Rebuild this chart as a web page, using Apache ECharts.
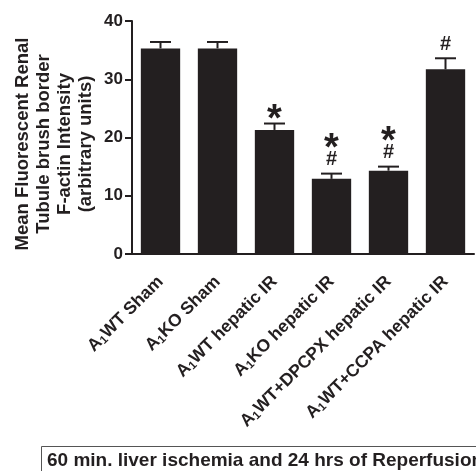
<!DOCTYPE html>
<html>
<head>
<meta charset="utf-8">
<script src="https://cdn.jsdelivr.net/npm/echarts@6/dist/echarts.min.js"></script>
<style>
html,body{margin:0;padding:0;background:#fff;}
#c{width:476px;height:471px;}
</style>
</head>
<body>
<div id="c"></div>
<script>
// ---- data ----
var categories = ['A{s|1}WT Sham', 'A{s|1}KO Sham', 'A{s|1}WT hepatic IR', 'A{s|1}KO hepatic IR', 'A{s|1}WT+DPCPX hepatic IR', 'A{s|1}WT+CCPA hepatic IR'];
var means = [35.3, 35.3, 21.3, 12.9, 14.3, 31.7];
var errorTops = [36.4, 36.4, 22.4, 13.8, 15.0, 33.6];
var starMarks = ['', '', '*', '*', '*', ''];
var hashMarks = ['', '', '', '#', '#', '#'];
var yTicks = [0, 10, 20, 30, 40];
var yTitle = 'Mean Fluorescent Renal\nTubule brush border\nF-actin Intensity\n(arbitrary units)';
var footnote = '60 min. liver ischemia and 24 hrs of Reperfusion';

var INK = '#231f20';
var FONT = '"Liberation Sans", Arial, Helvetica, sans-serif';

var chart = echarts.init(document.getElementById('c'), null, {renderer: 'canvas'});

var errData = means.map(function (m, i) { return [i, m, errorTops[i]]; });
var annData = means.map(function (m, i) { return [i, errorTops[i], starMarks[i], hashMarks[i]]; });

chart.setOption({
  animation: false,
  backgroundColor: '#fff',
  grid: {left: 132, right: 2, top: 21, bottom: 217, containLabel: false},
  xAxis: {
    type: 'category',
    data: categories,
    axisLine: {lineStyle: {color: INK, width: 2}},
    axisTick: {alignWithLabel: true, length: 8, lineStyle: {color: INK, width: 2}},
    axisLabel: {
      interval: 0, rotate: 45, margin: 25,
      color: INK, fontFamily: FONT, fontWeight: 'bold', fontSize: 17.5,
      rich: {s: {fontSize: 11.5, fontWeight: 'bold', fontFamily: FONT, color: INK, verticalAlign: 'bottom', padding: [7, 0, 0, 0]}}
    }
  },
  yAxis: {
    type: 'value', min: 0, max: 40, interval: 10,
    axisLine: {show: true, lineStyle: {color: INK, width: 2}},
    axisTick: {show: true, length: 7, lineStyle: {color: INK, width: 2}},
    splitLine: {show: false},
    axisLabel: {
      margin: 9, color: INK, fontFamily: FONT, fontWeight: 'bold', fontSize: 17,
      formatter: function (v) { return yTicks.indexOf(v) >= 0 ? String(v) : ''; }
    }
  },
  series: [
    {
      type: 'bar', data: means, barCategoryGap: '31%',
      itemStyle: {color: INK}
    },
    {
      type: 'custom', data: errData, z: 3,
      renderItem: function (params, api) {
        var top = api.coord([api.value(0), api.value(2)]);
        var base = api.coord([api.value(0), api.value(1)]);
        var half = 10.5;
        return {
          type: 'group',
          children: [
            {type: 'line', shape: {x1: top[0], y1: top[1], x2: base[0], y2: base[1]}, style: {stroke: INK, lineWidth: 2}},
            {type: 'line', shape: {x1: top[0] - half, y1: top[1], x2: top[0] + half, y2: top[1]}, style: {stroke: INK, lineWidth: 2}}
          ]
        };
      }
    },
    {
      type: 'custom', data: annData, z: 4,
      renderItem: function (params, api) {
        var i = params.dataIndex;
        var p = api.coord([api.value(0), api.value(1)]);
        var kids = [];
        var star = starMarks[i], hash = hashMarks[i];
        var y = p[1];
        if (hash) {
          kids.push({type: 'text', style: {text: hash, x: p[0], y: y - 14, align: 'center', verticalAlign: 'middle',
            font: 'bold 20px ' + FONT, fill: INK}});
          y = y - 24;
        } else {
          y = y - 3;
        }
        if (star) {
          kids.push({type: 'text', style: {text: star, x: p[0], y: y, align: 'center', verticalAlign: 'middle',
            font: 'bold 38px ' + FONT, fill: INK}});
        }
        return {type: 'group', children: kids};
      }
    }
  ],
  graphic: [
    {type: 'text', x: 54, y: 144, rotation: Math.PI / 2,
      style: {text: yTitle, align: 'center', verticalAlign: 'middle', lineHeight: 21,
        font: 'bold 18.5px ' + FONT, fill: INK}},
    {type: 'rect', left: 39, top: 444, shape: {width: 480, height: 40},
      style: {fill: 'none', stroke: '#555', lineWidth: 1}},
    {type: 'text', left: 47, top: 451,
      style: {text: footnote, font: 'bold 19px ' + FONT, fill: INK}}
  ]
});
</script>
</body>
</html>
